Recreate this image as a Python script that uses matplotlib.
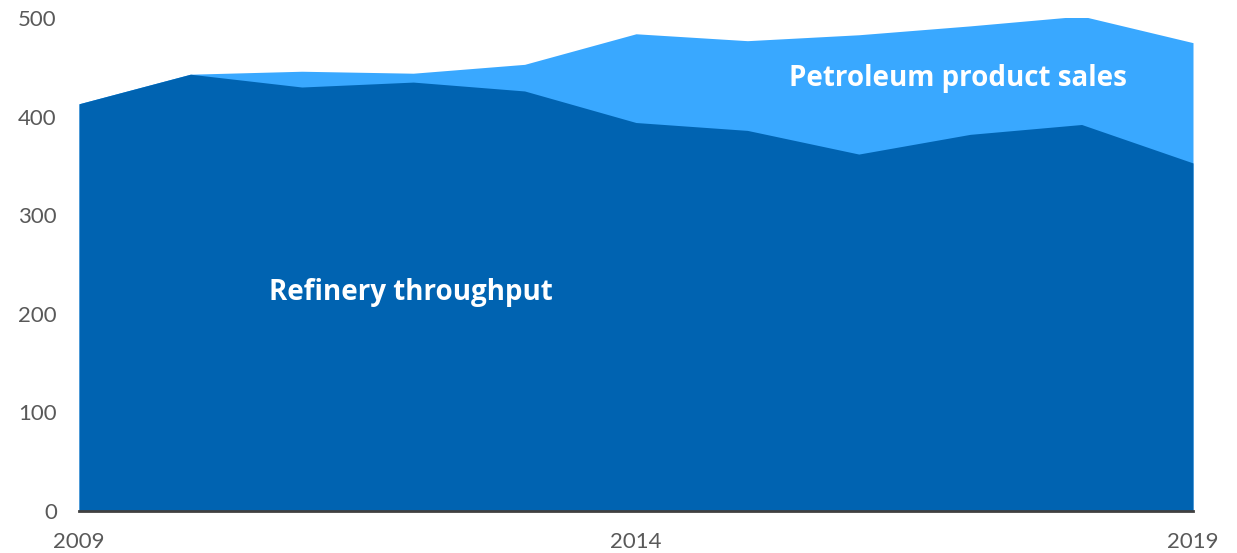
import matplotlib
matplotlib.use("Agg")
import matplotlib.pyplot as plt

years = [2009, 2010, 2011, 2012, 2013, 2014, 2015, 2016, 2017, 2018, 2019]
refinery_throughput = [413, 443, 430, 435, 426, 394, 386, 362, 382, 392, 353]
product_sales = [413, 443, 446, 444, 453, 484, 477, 483, 492, 502, 475]
x_ticks = [2009, 2014, 2019]
y_ticks = [0, 100, 200, 300, 400, 500]

dark = "#0063b1"
light = "#39a8ff"
grey = "#595959"

plt.rcParams['font.family'] = ['Lato', 'DejaVu Sans']

fig = plt.figure(figsize=(12.37, 5.53), dpi=100)
ax = fig.add_axes([79/1237, 42/553, (1193-79)/1237, (511-18)/553])

ax.fill_between(years, 0, product_sales, color=light, linewidth=0)
ax.fill_between(years, 0, refinery_throughput, color=dark, linewidth=0)

ax.set_xlim(2009, 2019)
ax.set_ylim(0, 500)
ax.set_xticks(x_ticks)
ax.set_yticks(y_ticks)
ax.tick_params(axis='both', length=0, labelsize=16, labelcolor=grey)
ax.tick_params(axis='x', pad=15)
ax.tick_params(axis='y', pad=16)
for s in ['top', 'right', 'left']:
    ax.spines[s].set_visible(False)
ax.spines['bottom'].set_color('#404040')
ax.spines['bottom'].set_linewidth(2)
ax.spines['bottom'].set_zorder(5)

label_font = ['Open Sans', 'DejaVu Sans']
ax.text(2010.71, 222, "Refinery throughput", color='white', fontsize=20,
        fontweight='bold', family=label_font, ha='left', va='center')
ax.text(2015.37, 439, "Petroleum product sales", color='white', fontsize=20,
        fontweight='bold', family=label_font, ha='left', va='center')

fig.savefig("out.png", dpi=100)
